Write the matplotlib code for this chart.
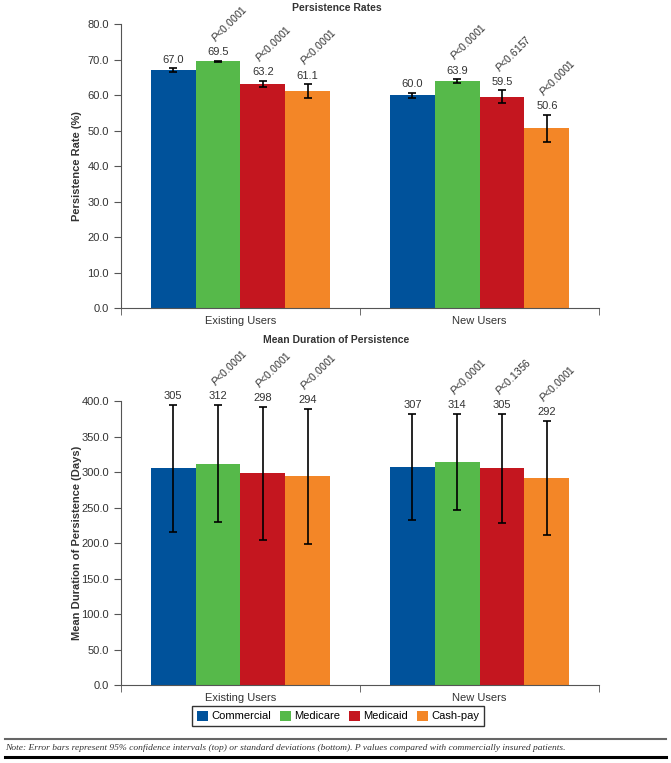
import matplotlib
matplotlib.use('Agg')
import matplotlib.pyplot as plt
from matplotlib.lines import Line2D
from matplotlib.patches import Patch

plt.rcParams['font.family'] = ['Liberation Sans', 'DejaVu Sans']
plt.rcParams['mathtext.fontset'] = 'custom'
plt.rcParams['mathtext.it'] = 'Liberation Sans:italic'
plt.rcParams['mathtext.rm'] = 'Liberation Sans'

groups = ['Existing Users', 'New Users']
payers = ['Commercial', 'Medicare', 'Medicaid', 'Cash-pay']
colors = ['#00529b', '#56b94a', '#c4161f', '#f38627']

# persistence rates (%) with 95% CI half widths
rate = [[67.0, 69.5, 63.2, 61.1], [60.0, 63.9, 59.5, 50.6]]
rate_ci = [[0.6, 0.2, 0.8, 2.0], [0.7, 0.6, 1.8, 3.8]]
rate_p = [[None, '<0.0001', '<0.0001', '<0.0001'], [None, '<0.0001', '<0.6157', '<0.0001']]

# mean duration (days) with SD
days = [[305, 312, 298, 294], [307, 314, 305, 292]]
days_sd = [[90, 83, 94, 95], [75, 68, 77, 80]]
days_p = [[None, '<0.0001', '<0.0001', '<0.0001'], [None, '<0.0001', '<0.1356', '<0.0001']]

W = 0.1875
TXT = '#333333'


def draw(ax, vals, errs, pvals, ymax, step, ylabel, fmt):
    for i in range(len(groups)):
        for j in range(len(payers)):
            x = i + (j - 1.5) * W
            v = vals[i][j]
            e = errs[i][j]
            ax.bar(x, v, W, color=colors[j], edgecolor='none', zorder=2)
            ax.errorbar(x, v, yerr=e, fmt='none', ecolor='black', elinewidth=1.2,
                        capsize=3, capthick=1.2, zorder=3, clip_on=False)
            ax.annotate(fmt % v, xy=(x, v + e), xytext=(0, 2.5), textcoords='offset points',
                        ha='center', va='bottom', fontsize=8, color=TXT)
            if pvals[i][j]:
                ax.annotate(r'$\mathit{P}$' + pvals[i][j], xy=(x, v + e), xytext=(-1, 12),
                            textcoords='offset points', rotation=45, rotation_mode='anchor',
                            ha='left', va='bottom', fontsize=7.5, color=TXT)
    ax.set_xlim(-0.5, 1.5)
    ax.set_ylim(0, ymax)
    ax.set_yticks([k * step for k in range(int(ymax / step) + 1)])
    ax.set_yticklabels(['%.1f' % (k * step) for k in range(int(ymax / step) + 1)])
    ax.set_xticks([0, 1])
    ax.set_xticklabels(groups)
    ax.set_xticks([-0.5, 0.5, 1.5], minor=True)
    ax.tick_params(axis='x', which='major', length=0, pad=6, labelsize=8, labelcolor=TXT)
    ax.tick_params(axis='x', which='minor', length=5, color='#555555', direction='out')
    ax.tick_params(axis='y', length=5, color='#555555', labelsize=8, labelcolor=TXT)
    for s in ['top', 'right']:
        ax.spines[s].set_visible(False)
    for s in ['left', 'bottom']:
        ax.spines[s].set_color('#555555')
    ax.set_ylabel(ylabel, fontsize=8, fontweight='bold', color=TXT)
    ax.yaxis.set_label_coords(-0.0816, 0.5)


fig = plt.figure(figsize=(6.71, 7.63), dpi=100)
ax1 = fig.add_axes([0.180, 0.5963, 0.713, 0.3722])
ax2 = fig.add_axes([0.180, 0.1022, 0.713, 0.3722])

draw(ax1, rate, rate_ci, rate_p, 80, 10, 'Persistence Rate (%)', '%.1f')
draw(ax2, days, days_sd, days_p, 400, 50, 'Mean Duration of Persistence (Days)', '%d')

fig.text(0.5015, 1 - 8 / 763, 'Persistence Rates', ha='center', va='center',
         fontsize=7.5, fontweight='bold', color=TXT)
fig.text(0.5015, 1 - 340 / 763, 'Mean Duration of Persistence', ha='center', va='center',
         fontsize=7.5, fontweight='bold', color=TXT)

handles = [Patch(facecolor=c, edgecolor='none') for c in colors]
leg = fig.legend(handles, payers, loc='center', bbox_to_anchor=(338 / 671, 1 - 716 / 763),
                 ncol=4, frameon=True, fancybox=False, edgecolor='black', fontsize=8,
                 handlelength=1, handleheight=1, handletextpad=0.3, columnspacing=0.8,
                 borderpad=0.4)
leg.get_frame().set_linewidth(1)

fig.add_artist(Line2D([0.007, 0.993], [1 - 739 / 763] * 2, color='#666666', lw=1.5))
fig.add_artist(Line2D([0.007, 0.993], [1 - 757 / 763] * 2, color='black', lw=2.2))
fig.text(0.008, 1 - 748 / 763,
         'Note: Error bars represent 95% confidence intervals (top) or standard deviations (bottom). '
         'P values compared with commercially insured patients.',
         ha='left', va='center', fontsize=6.8, style='italic', family='Liberation Serif', color=TXT)

fig.savefig('out.png', dpi=100)
